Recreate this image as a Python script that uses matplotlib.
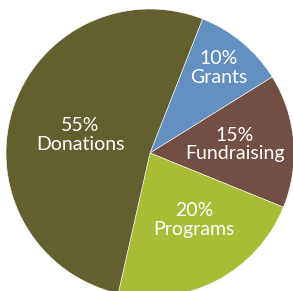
import numpy as np
import matplotlib
matplotlib.use('Agg')
from matplotlib import pyplot as plt

names = ['Grants', 'Fundraising', 'Programs', 'Donations']
pct_text = ['10%', '15%', '20%', '55%']
# slice sizes as drawn in the picture
values = [10.2, 15.0, 22.4, 52.4]
colors = ['#6490C1', '#734F43', '#A8BD35', '#62602E']
# label centre, as a fraction of the radius from the pie centre
label_pos = [(0.479, 0.59), (0.59, 0.06), (0.306, -0.465), (-0.486, 0.125)]

plt.rcParams['font.family'] = ['Lato', 'DejaVu Sans']

fig = plt.figure(figsize=(2.93, 2.91), dpi=100)
ax = fig.add_axes([0, 0, 1, 1])
cx, cy, r = 150, 291 - 153, 144
wedges, _ = ax.pie(values, colors=colors, startangle=68.6, counterclock=False,
                   radius=r, center=(cx, cy),
                   wedgeprops=dict(edgecolor='white', linewidth=0.4))

for p, n, (fx, fy) in zip(pct_text, names, label_pos):
    ax.text(cx + fx * r, cy + fy * r, p + '\n' + n, ha='center', va='center',
            color='white', fontsize=14, linespacing=1.12)

ax.set_xlim(0, 293)
ax.set_ylim(0, 291)
ax.set_aspect('equal')
ax.axis('off')
fig.savefig('out.png', dpi=100)
